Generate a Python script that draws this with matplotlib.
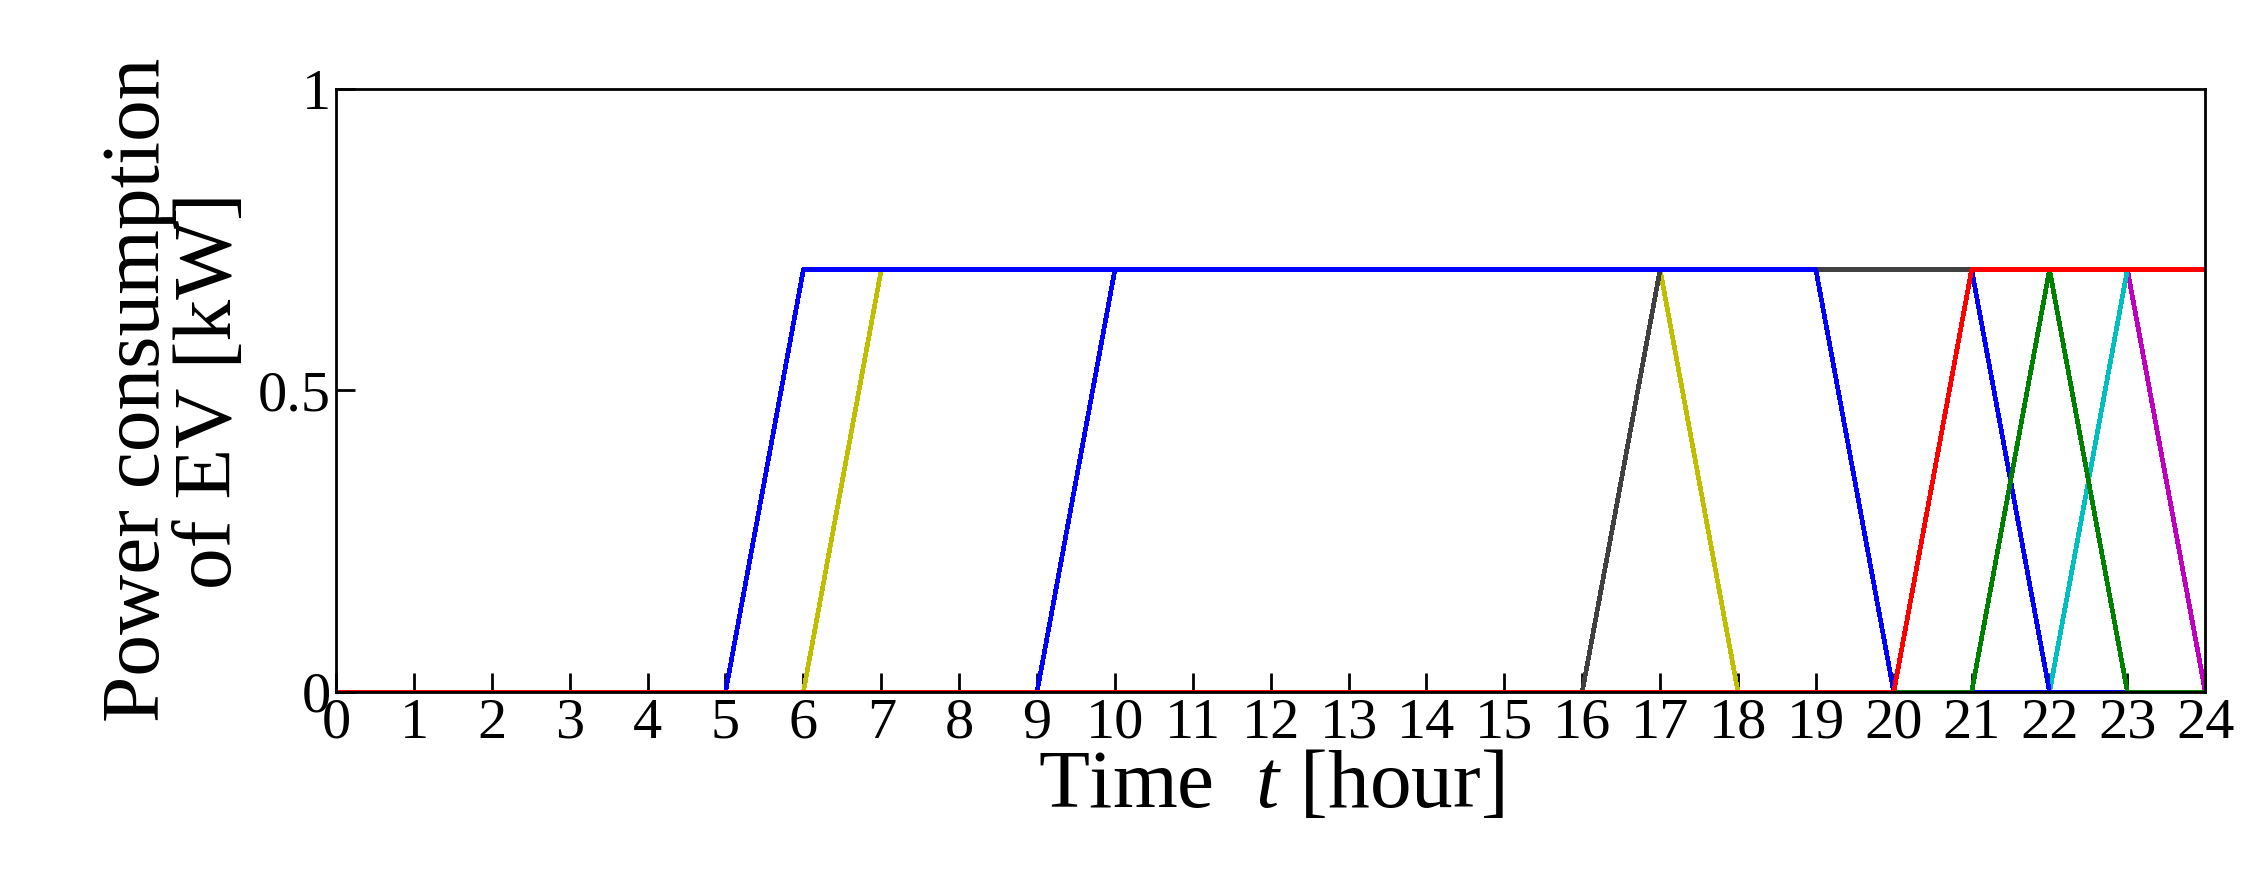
import numpy as np
import matplotlib.pyplot as plt

plt.rcParams['font.family'] = ['Liberation Serif', 'DejaVu Serif']
plt.rcParams['mathtext.fontset'] = 'custom'
plt.rcParams['mathtext.it'] = 'Liberation Serif:italic'

hours = np.arange(25)

# power of each EV per hour [kW]
ev_blue_a = [0]*6 + [0.7]*14 + [0]*5
ev_yellow = [0]*7 + [0.7]*11 + [0]*7
ev_blue_b = [0]*10 + [0.7]*12 + [0]*3
ev_cyan = [0]*23 + [0.7]*2
ev_magenta = [0]*6 + [0.7]*18 + [0]
ev_green = [0]*22 + [0.7] + [0]*2
ev_black = [0]*17 + [0.7]*6 + [0]*2
ev_red = [0]*21 + [0.7]*4

series = [
    (ev_magenta, "m"),
    (ev_cyan, "c"),
    (ev_blue_b, "b"),
    (ev_yellow, "y"),
    (ev_black, "#404040"),
    (ev_blue_a, "b"),
    (ev_green, "g"),
    (ev_red, "r"),
]

fig = plt.figure(figsize=(22.48, 8.86), dpi=100)
ax = fig.add_axes([0.1495, 0.219, 0.8315, 0.681])
for values, color in series:
    ax.plot(hours, values, color=color, linewidth=2.6, antialiased=False)

ax.set_xlim(0, 24)
ax.set_ylim(0, 1)
ax.set_xticks(hours)
ax.set_yticks([0, 0.5, 1])
ax.set_yticklabels(["0", "0.5", "1"])
ax.tick_params(direction="in", length=14, width=2, labelsize=42, pad=4)
for sp in ax.spines.values():
    sp.set_linewidth(2)
ax.set_xlabel("Time  $t$ [hour]", fontsize=60, labelpad=0)
ax.set_ylabel("Power consumption\nof EV [kW]", fontsize=60, linespacing=0.95, labelpad=6)

fig.savefig("out.png", dpi=100)
